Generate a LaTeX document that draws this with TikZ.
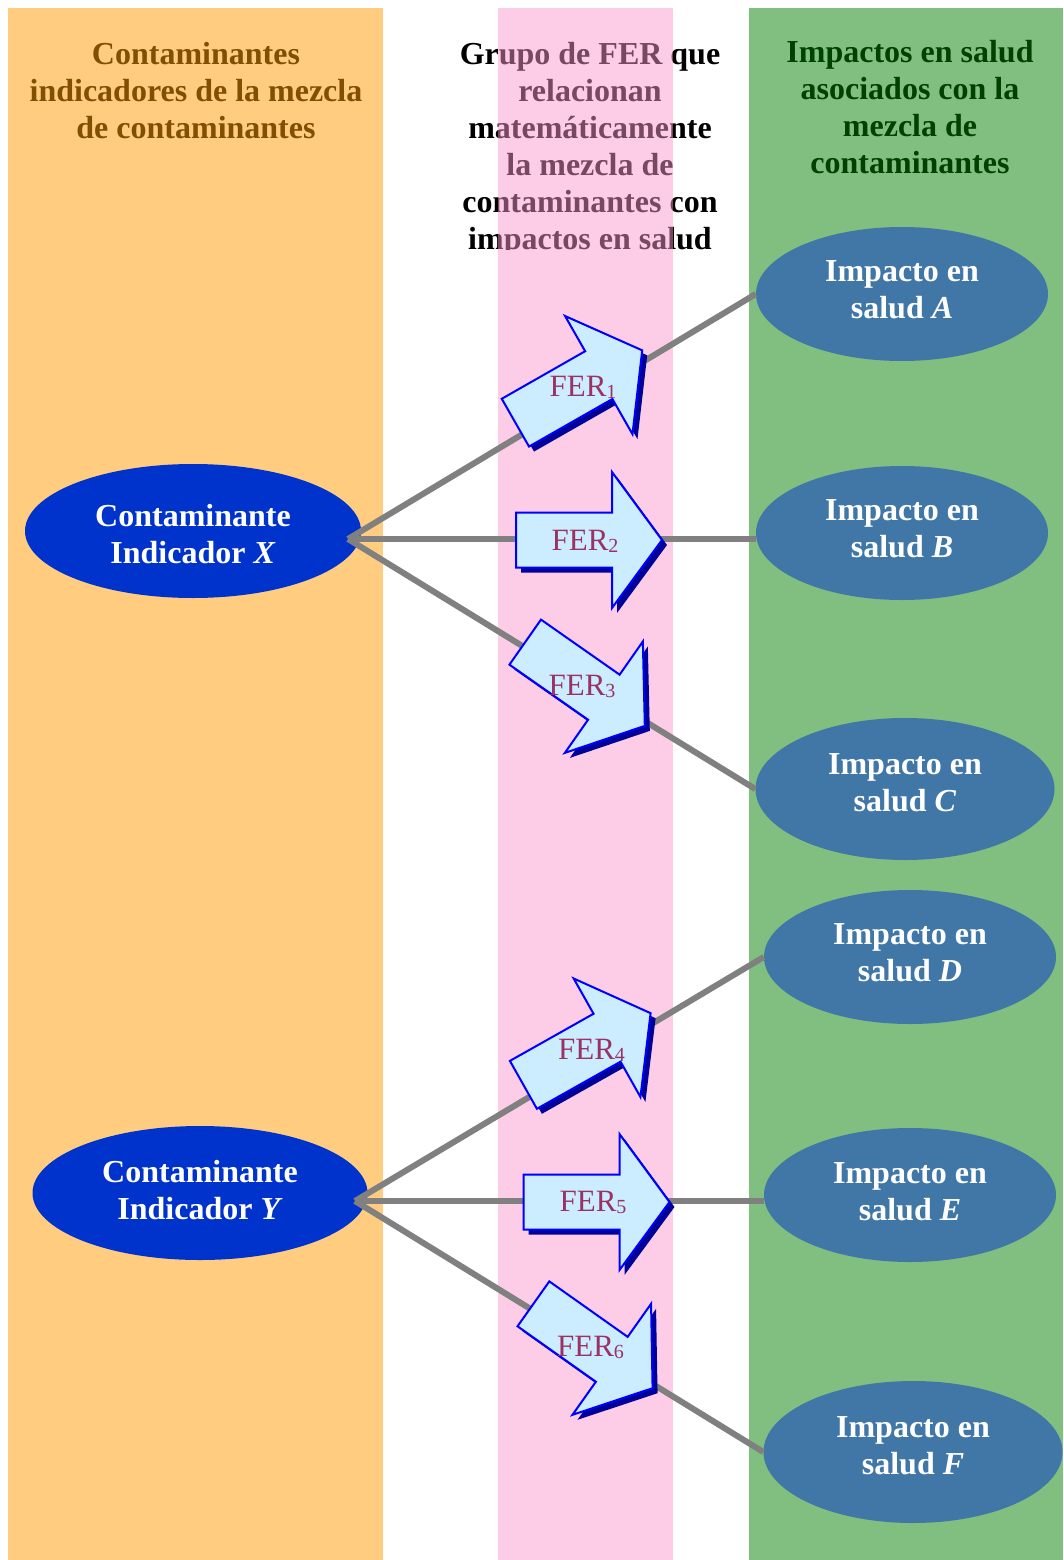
\documentclass[tikz,border=0pt]{standalone}
\usepackage{fontspec}
\setmainfont{Liberation Serif}
\usetikzlibrary{shapes.geometric}
\definecolor{colOrange}{RGB}{255,204,128}
\definecolor{colGreen}{RGB}{128,191,128}
\definecolor{colPink}{RGB}{251,149,203}
\definecolor{colBrown}{RGB}{128,80,0}
\definecolor{colDkGreen}{RGB}{0,64,0}
\definecolor{colX}{RGB}{0,51,204}
\definecolor{colImp}{RGB}{65,119,166}
\definecolor{colArrFill}{RGB}{204,236,255}
\definecolor{colArrLine}{RGB}{0,0,255}
\definecolor{colArrShadow}{RGB}{0,0,153}
\definecolor{colFER}{RGB}{153,51,102}
\definecolor{colConn}{RGB}{128,128,128}
\tikzset{
  hdr/.style={font=\bfseries\fontsize{32}{37}\selectfont, align=center, inner sep=0pt},
  ell/.style={ellipse, inner sep=0pt, text=white, align=center,
    font=\bfseries\fontsize{32}{37}\selectfont},
  conn/.style={draw=colConn, line width=6pt},
  ferbox/.style={fill=colArrFill, draw=colArrLine, line width=2pt, line join=miter},
  fershadow/.style={fill=colArrShadow},
  ferlbl/.style={text=colFER, inner sep=0pt, font=\fontsize{31}{31}\selectfont}
}
\newcommand\fersub[1]{\raisebox{-2pt}{\fontsize{20}{20}\selectfont #1}}
\newcommand\dpt[1]{\rule[-#1]{0pt}{#1}}
\newcommand\ferarrow[3]{%
  \fill[fershadow, shift={(#1+5,#2-5)}, rotate=#3]
    (-73,27.5) -- (23,27.5) -- (23,68) -- (73,0) -- (23,-68) -- (23,-27.5) -- (-73,-27.5) -- cycle;
  \draw[ferbox, shift={(#1,#2)}, rotate=#3]
    (-73,27.5) -- (23,27.5) -- (23,68) -- (73,0) -- (23,-68) -- (23,-27.5) -- (-73,-27.5) -- cycle;
}
\begin{document}
\begin{tikzpicture}[x=1pt,y=1pt]
\useasboundingbox (0,0) rectangle (1063,-1560);
\fill[white] (0,0) rectangle (1063,-1560);
\fill[colOrange] (8,-8) rectangle (383,-1560);
\fill[colGreen] (749,-8) rectangle (1063,-1560);
\node[hdr, text=colBrown] (hleft) at (196,-91) {Contaminantes\\indicadores de la mezcla\\de contaminantes};
\node[hdr, text=colDkGreen] (hright) at (910,-107.5) {Impactos en salud\\asociados con la\\mezcla de\\contaminantes};
\begin{scope}
  \clip (440,-8) rectangle (740,-249);
  \node[hdr, text=black] (hmid) at (590,-149.5) {Grupo de FER que\\relacionan\\matemáticamente\\la mezcla de\\contaminantes con\\impactos en salud};
\end{scope}
\fill[colPink, opacity=0.48] (498,-8) rectangle (673,-1560);
% ellipses
\node[ell, fill=colX, minimum width=336pt, minimum height=134pt] (X) at (193,-531) {\rule{0pt}{28pt}Contaminante\\Indicador \textit{X}};
\node[ell, fill=colX, minimum width=335pt, minimum height=134pt] (Y) at (200,-1193) {Contaminante\\Indicador \textit{Y}\dpt{7pt}};
\node[ell, fill=colImp, minimum width=292pt, minimum height=134pt] (A) at (902,-294) {Impacto en\\salud \textit{A}\dpt{8pt}};
\node[ell, fill=colImp, minimum width=292pt, minimum height=134pt] (B) at (902,-533) {Impacto en\\salud \textit{B}\dpt{8pt}};
\node[ell, fill=colImp, minimum width=299pt, minimum height=142pt] (C) at (905,-789) {Impacto en\\salud \textit{C}\dpt{12pt}};
\node[ell, fill=colImp, minimum width=292pt, minimum height=134pt] (D) at (910,-957) {Impacto en\\salud \textit{D}\dpt{9pt}};
\node[ell, fill=colImp, minimum width=292pt, minimum height=134pt] (E) at (910,-1195) {Impacto en\\salud \textit{E}\dpt{7pt}};
\node[ell, fill=colImp, minimum width=299pt, minimum height=142pt] (F) at (913,-1452) {Impacto en\\salud \textit{F}\dpt{13pt}};
% connectors
\coordinate (xhub) at (348,-539);
\coordinate (yhub) at (355,-1201);
\draw[conn] (xhub) -- (A.west);
\draw[conn] (xhub) -- (xhub -| B.west);
\draw[conn] (xhub) -- (C.west);
\draw[conn] (yhub) -- (D.west);
\draw[conn] (yhub) -- (yhub -| E.west);
\draw[conn] (yhub) -- (F.west);
% arrows
\ferarrow{578.8}{-386.5}{29.7}
\ferarrow{589}{-540}{0}
\ferarrow{585}{-684}{-35}
\ferarrow{587}{-1049}{29.4}
\ferarrow{596.5}{-1202}{0}
\ferarrow{593}{-1346}{-35.3}
\node[ferlbl] (f1) at (583,-387) {FER\fersub{1}};
\node[ferlbl] (f2) at (585,-541) {FER\fersub{2}};
\node[ferlbl] (f3) at (582,-686) {FER\fersub{3}};
\node[ferlbl] (f4) at (591.5,-1050) {FER\fersub{4}};
\node[ferlbl] (f5) at (593,-1202) {FER\fersub{5}};
\node[ferlbl] (f6) at (590.5,-1347) {FER\fersub{6}};
\end{tikzpicture}
\end{document}
